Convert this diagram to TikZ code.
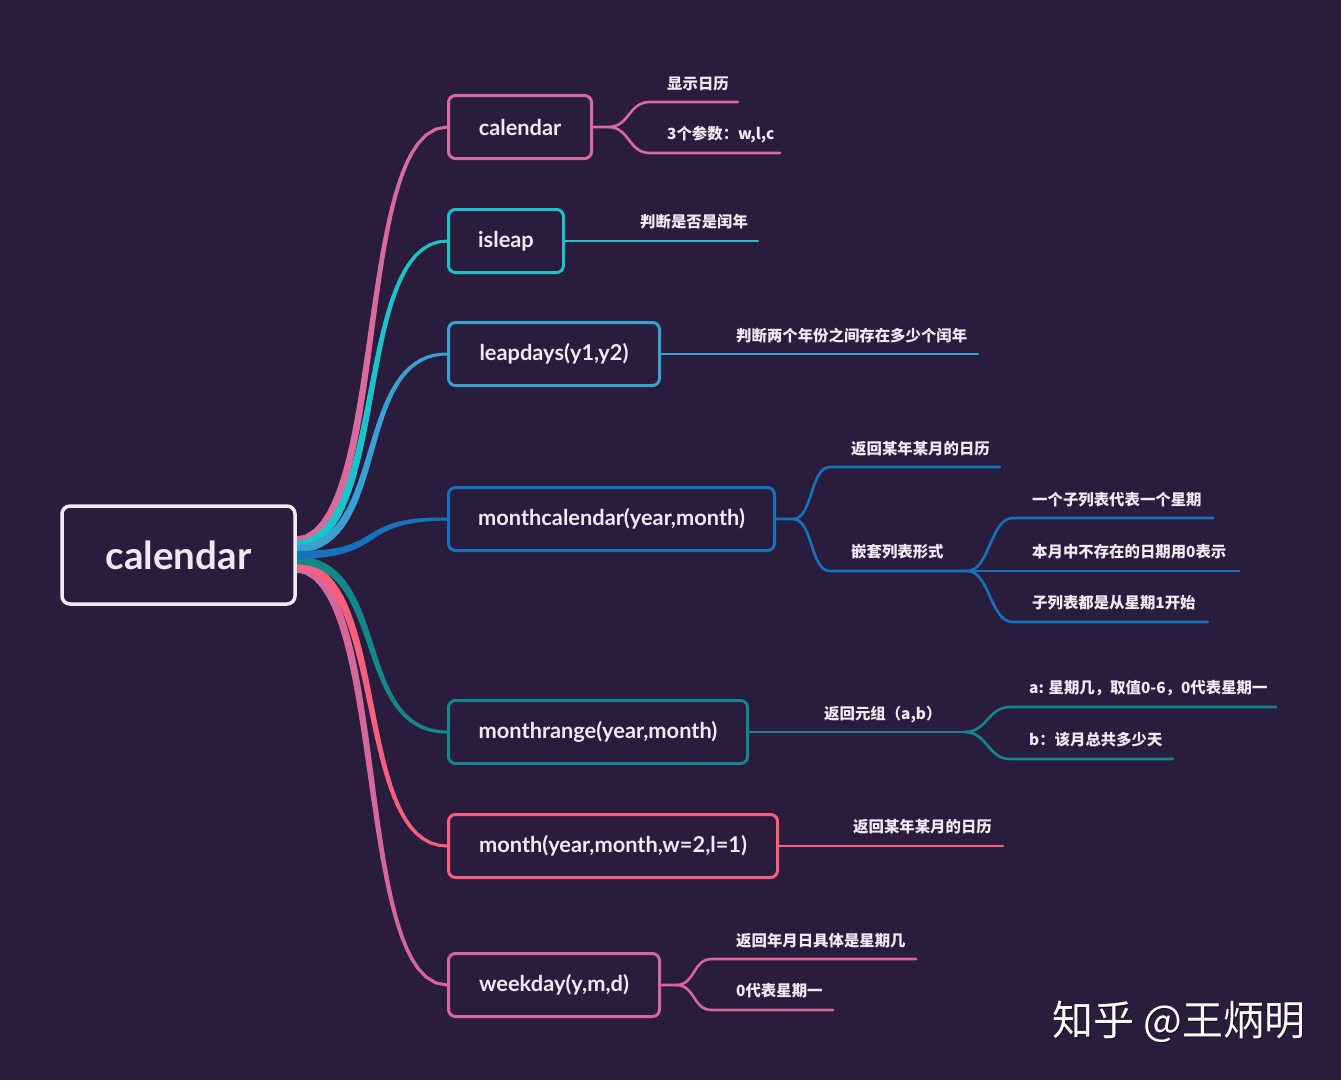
\documentclass[tikz,border=0pt]{standalone}
\usepackage{fontspec}
\usetikzlibrary{decorations.markings,calc}
\newfontfamily\lfont{Lato}
\newfontfamily\cjk{Noto Sans CJK SC}
\definecolor{bg}{HTML}{2A1C3C}
\definecolor{txt}{HTML}{F1EAF3}
\definecolor{ccal}{HTML}{D96A9E}
\definecolor{cisl}{HTML}{1CC3CB}
\definecolor{clpd}{HTML}{3A9FD2}
\definecolor{cmc}{HTML}{1573BD}
\definecolor{cmr}{HTML}{13878A}
\definecolor{cmo}{HTML}{F5607E}
\definecolor{cwd}{HTML}{D5679C}
\pgfdeclarelayer{bgfill}
\pgfdeclarelayer{background}
\pgfsetlayers{bgfill,background,main}
\tikzset{
  rootbox/.style={draw=txt, line width=3.5pt, rounded corners=8pt, fill=bg, minimum width=233, minimum height=98, inner sep=0pt, text=txt, font=\lfont\bfseries\fontsize{38.5}{44}\selectfont},
  lvl/.style={draw, line width=3pt, rounded corners=7pt, fill=bg, minimum height=63, inner sep=0pt, text=txt, anchor=west, font=\lfont\bfseries\fontsize{21.8}{25}\selectfont},
  sub/.style={line width=2.6pt, line cap=round},
  lab/.style={anchor=base west, inner sep=0pt, text=txt, font=\cjk\bfseries\fontsize{15.4}{18}\selectfont},
}
\newcommand\mainbr[3]{%
  \path[decorate, decoration={markings, mark=between positions 0 and 0.999 step 0.025 with {\coordinate (q\pgfkeysvalueof{/pgf/decoration/mark info/sequence number});}}] (#2) .. controls +(95,0) and +(-95,0) .. (#3);
  \foreach \i in {1,...,39}{\pgfmathtruncatemacro\j{\i+1}\pgfmathsetmacro\w{8.5-5.5*\i/40}\draw[#1, line width=\w pt, line cap=round] (q\i) -- (q\j);}
  \draw[#1, line width=3pt, line cap=round] (q40) -- (#3);
}
\begin{document}
\begin{tikzpicture}[x=1pt,y=-1pt]
\begin{pgfonlayer}{bgfill}
\fill[bg] (0,0) rectangle (1341,1080);
\end{pgfonlayer}
\useasboundingbox (0,0) rectangle (1341,1080);

% nodes
\node[rootbox] (root) at (178.5,555) {calendar};
\node[lvl, draw=ccal, minimum width=143] (n1) at (447,127) {calendar};
\node[lvl, draw=cisl, minimum width=115] (n2) at (447,241) {isleap};
\node[lvl, draw=clpd, minimum width=211] (n3) at (447,354) {leapdays(y1,y2)};
\node[lvl, draw=cmc, minimum width=326] (n4) at (447,519) {monthcalendar(year,month)};
\node[lvl, draw=cmr, minimum width=299] (n5) at (447,732) {monthrange(year,month)};
\node[lvl, draw=cmo, minimum width=329] (n6) at (447,846) {month(year,month,w=2,l=1)};
\node[lvl, draw=cwd, minimum width=211] (n7) at (447,985) {weekday(y,m,d)};

% labels
\node[lab] (t11) at (667,89) {显示日历};
\node[lab] (t12) at (667,139) {3个参数：w,l,c};
\node[lab] (t21) at (640,227) {判断是否是闰年};
\node[lab] (t31) at (736,341) {判断两个年份之间存在多少个闰年};
\node[lab] (t41) at (851,454) {返回某年某月的日历};
\node[lab] (t42) at (851,557) {嵌套列表形式};
\node[lab] (t421) at (1032,505) {一个子列表代表一个星期};
\node[lab] (t422) at (1032,557) {本月中不存在的日期用0表示};
\node[lab] (t423) at (1032,608) {子列表都是从星期1开始};
\node[lab] (t51) at (824,719) {返回元组（a,b）};
\node[lab] (t511) at (1029,693) {a: 星期几，取值0-6，0代表星期一};
\node[lab] (t512) at (1029,745) {b：该月总共多少天};
\node[lab] (t61) at (853,832) {返回某年某月的日历};
\node[lab] (t71) at (736,946) {返回年月日具体是星期几};
\node[lab] (t72) at (736,996) {0代表星期一};

% watermark
\node[anchor=base west, inner sep=0pt, text=black, opacity=0.55, font=\cjk\fontsize{41}{48}\selectfont] at (1053.5,1036.5) {知乎 @王炳明};
\node[anchor=base west, inner sep=0pt, text=white, font=\cjk\fontsize{41}{48}\selectfont] (wm) at (1052,1035) {知乎 @王炳明};

% line end coordinates
\coordinate (e11) at (738,102);
\coordinate (e12) at (780,153);
\coordinate (e21) at (758,241);
\coordinate (e31) at (978,354);
\coordinate (e41) at (1000,467);
\coordinate (s42) at (967,571);
\coordinate (e421) at (1213,518);
\coordinate (e422) at (1239,571);
\coordinate (e423) at (1208,622);
\coordinate (s51) at (965,732);
\coordinate (e511) at (1276,707);
\coordinate (e512) at (1173,759);
\coordinate (e61) at (1003,846);
\coordinate (e71) at (916,959);
\coordinate (e72) at (833,1010);

\begin{pgfonlayer}{background}
% main branches
\mainbr{ccal}{$(root.east)+(-2,-14)$}{n1.west}
\mainbr{cisl}{$(root.east)+(-2,-10)$}{n2.west}
\mainbr{clpd}{$(root.east)+(-2,-6)$}{n3.west}
\mainbr{cwd}{$(root.east)+(-2,13)$}{n7.west}
\mainbr{cmo}{$(root.east)+(-2,10)$}{n6.west}
\mainbr{cmr}{$(root.east)+(-2,5)$}{n5.west}
\mainbr{cmc}{$(root.east)+(-2,0)$}{n4.west}

% sub branches
\draw[sub, ccal] (n1.east) -- ++(15,0) coordinate (b1) .. controls +(22,0) and +(-22,0) .. (650,102) -- (e11);
\draw[sub, ccal] (b1) .. controls +(22,0) and +(-22,0) .. (650,153) -- (e12);
\draw[sub, cisl] (n2.east) -- (e21);
\draw[sub, clpd] (n3.east) -- (e31);
\draw[sub, cmc] (n4.east) -- ++(17,0) coordinate (b4) .. controls +(20,0) and +(-20,0) .. (830,467) -- (e41);
\draw[sub, cmc] (b4) .. controls +(20,0) and +(-20,0) .. (830,571) -- (s42);
\draw[sub, cmc] (s42) .. controls +(23,0) and +(-23,0) .. (1013,518) -- (e421);
\draw[sub, cmc] (s42) -- (e422);
\draw[sub, cmc] (s42) .. controls +(23,0) and +(-23,0) .. (1013,622) -- (e423);
\draw[sub, cmr] (n5.east) -- (s51);
\draw[sub, cmr] (s51) .. controls +(22,0) and +(-22,0) .. (1010,707) -- (e511);
\draw[sub, cmr] (s51) .. controls +(22,0) and +(-22,0) .. (1010,759) -- (e512);
\draw[sub, cmo] (n6.east) -- (e61);
\draw[sub, cwd] (n7.east) -- ++(15,0) coordinate (b7) .. controls +(20,0) and +(-20,0) .. (712,959) -- (e71);
\draw[sub, cwd] (b7) .. controls +(20,0) and +(-20,0) .. (712,1010) -- (e72);
\end{pgfonlayer}
\end{tikzpicture}
\end{document}
